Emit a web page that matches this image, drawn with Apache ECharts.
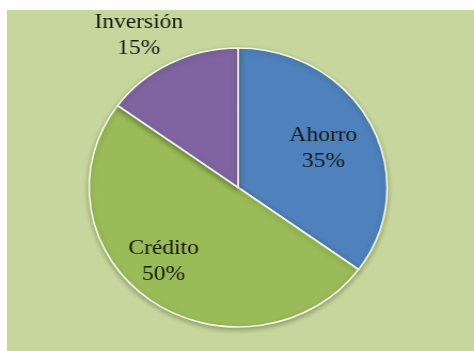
<!DOCTYPE html>
<html>
<head>
<meta charset="utf-8">
<script src="https://cdn.jsdelivr.net/npm/echarts@6/dist/echarts.min.js"></script>
<style>
  html, body { margin: 0; padding: 0; background: #ffffff; }
  #panel {
    position: absolute; left: 7px; top: 10px;
    width: 467px; height: 341px; background: #c6d69c;
  }
  /* the chart is drawn slightly narrower and stretched to full width */
  #chart {
    position: absolute; left: 0; top: 0;
    width: 444px; height: 351px;
    transform: scaleX(1.0677); transform-origin: 0 0;
  }
</style>
</head>
<body>
<div id="panel"></div>
<div id="chart"></div>
<script>
// Distribución por destino (porcentajes)
const categories = ['Ahorro', 'Crédito', 'Inversión'];
const values = [35, 50, 15];
const colors = ['#4f81bd', '#9bbb59', '#8064a2'];
const labelOffsets = [[15, -6], [-27, 15], [-60, -87]];

const chart = echarts.init(document.getElementById('chart'), null, { renderer: 'canvas' });

chart.setOption({
  backgroundColor: 'transparent',
  animation: false,
  series: [{
    type: 'pie',
    center: [223, 187.5],
    radius: 139.5,
    startAngle: 90,
    clockwise: true,
    avoidLabelOverlap: false,
    labelLine: { show: false },
    itemStyle: {
      borderColor: '#f4f8ec',
      borderWidth: 1.6,
      shadowBlur: 5,
      shadowOffsetY: 2,
      shadowColor: 'rgba(40,60,10,0.35)'
    },
    label: {
      show: true,
      position: 'inside',
      formatter: '{b}\n{c}%',
      fontFamily: '"Liberation Serif", "DejaVu Serif", serif',
      fontSize: 22,
      lineHeight: 26,
      color: '#141a12',
      align: 'center'
    },
    emphasis: { disabled: true },
    data: categories.map((name, i) => ({
      name: name,
      value: values[i],
      itemStyle: { color: colors[i] },
      label: { offset: labelOffsets[i] }
    }))
  }]
});
</script>
</body>
</html>
